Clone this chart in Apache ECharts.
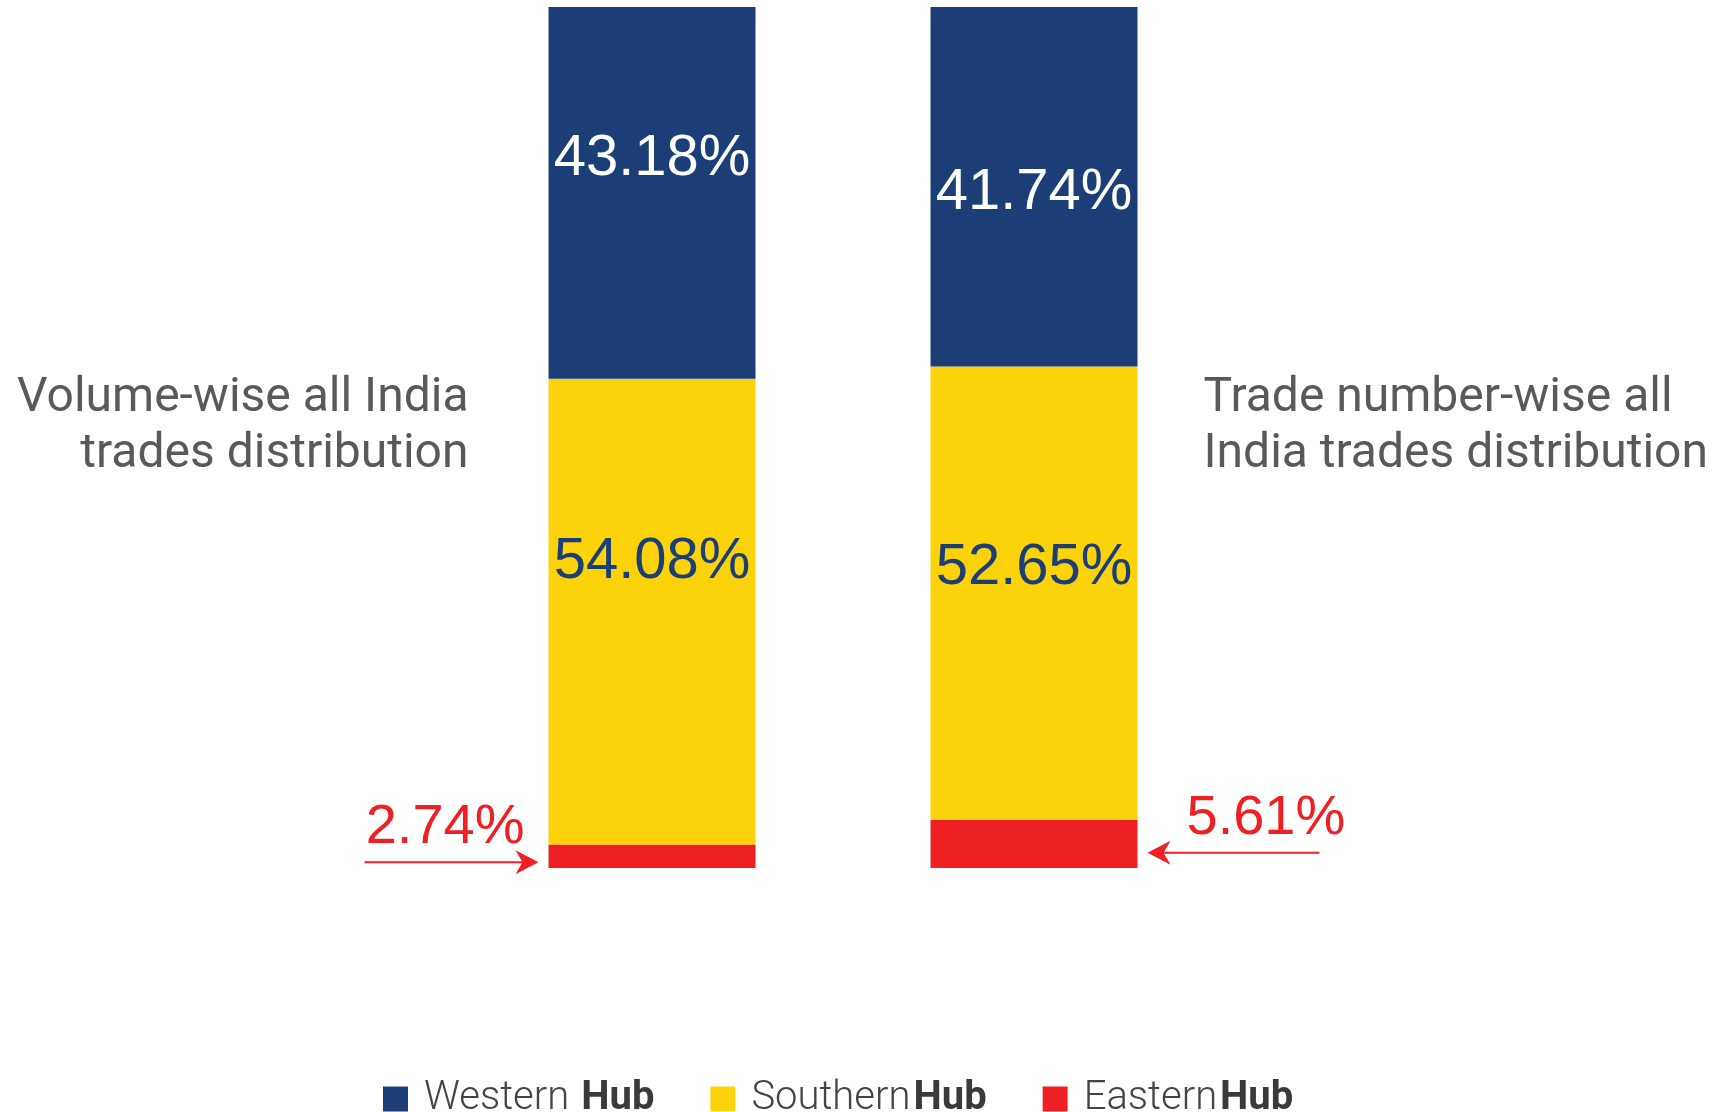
<!DOCTYPE html>
<html>
<head>
<meta charset="utf-8">
<script src="https://cdn.jsdelivr.net/npm/echarts@6/dist/echarts.min.js"></script>
<style>
  html, body { margin: 0; padding: 0; background: #fff; }
  #main { width: 1727px; height: 1112px; }
</style>
</head>
<body>
<div id="main"></div>
<script>
// data
const categories = ['Volume-wise', 'Trade number-wise'];
const hubNames = ['Western Hub', 'Southern Hub', 'Eastern Hub'];
const western = [43.18, 41.74];
const southern = [54.08, 52.65];
const eastern = [2.74, 5.61];

const BLUE = '#1c3e76';
const YELLOW = '#fcd30b';
const RED = '#ee2024';
const LABEL_FONT = '"Liberation Sans", Arial, sans-serif';

// nudges so the in-bar labels sit where the original put them
const westernOffsets = [[0, -34], [0, 6]];
const southernOffsets = [[0, -50], [0, -25]];

const chart = echarts.init(document.getElementById('main'));

function pct(p) { return p.value.toFixed(2) + '%'; }

// stack is built bottom-up: eastern, southern, western
const option = {
  animation: false,
  grid: { left: 461, right: 502, top: 7, bottom: 244 },
  xAxis: {
    type: 'category',
    data: categories,
    show: false
  },
  yAxis: {
    type: 'value',
    min: 0,
    max: 100,
    show: false
  },
  legend: {
    data: hubNames,
    left: 378,
    top: 1074,
    itemWidth: 25,
    itemHeight: 25,
    itemGap: 56,
    icon: 'rect',
    formatter: function (name) {
      const gap = name === 'Western Hub' ? 's' : 't';
      return '{g| }{a|' + name.replace(' Hub', '') + '}{' + gap + '| }{b|Hub}';
    },
    textStyle: {
      rich: {
        g: { width: 11, lineHeight: 44 },
        s: { width: 12, lineHeight: 44 },
        t: { width: 3, lineHeight: 44 },
        a: { fontFamily: 'Roboto', fontWeight: 300, fontSize: 40, lineHeight: 44, color: '#444' },
        b: { fontFamily: 'Roboto', fontWeight: 'bold', fontSize: 40, lineHeight: 44, color: '#3a3a3a' }
      }
    }
  },
  series: [
    {
      name: 'Eastern Hub',
      type: 'bar',
      stack: 'hub',
      barWidth: 207,
      itemStyle: { color: RED },
      data: eastern.map((v, i) => ({
        value: v,
        label: i === 0
          ? { position: 'left', distance: 24, offset: [0, -29] }
          : { position: 'right', distance: 49, offset: [0, -25] }
      })),
      label: {
        show: true,
        formatter: pct,
        color: RED,
        fontFamily: LABEL_FONT,
        fontSize: 56
      }
    },
    {
      name: 'Southern Hub',
      type: 'bar',
      stack: 'hub',
      itemStyle: { color: YELLOW },
      data: southern.map((v, i) => ({
        value: v,
        label: { offset: southernOffsets[i] }
      })),
      label: {
        show: true,
        position: 'inside',
        formatter: pct,
        color: '#1c3e76',
        fontFamily: LABEL_FONT,
        fontSize: 58
      }
    },
    {
      name: 'Western Hub',
      type: 'bar',
      stack: 'hub',
      itemStyle: { color: BLUE },
      data: western.map((v, i) => ({
        value: v,
        label: { offset: westernOffsets[i] }
      })),
      label: {
        show: true,
        position: 'inside',
        formatter: pct,
        color: '#fff',
        fontFamily: LABEL_FONT,
        fontSize: 58
      }
    }
  ]
};

chart.setOption(option);

// titles and arrows, placed from the bars' pixel positions
const halfBar = 103.5;
const graphics = [];

function arrow(fromX, toX, y) {
  const dir = toX > fromX ? 1 : -1;
  graphics.push({
    type: 'line',
    shape: { x1: fromX, y1: y, x2: toX - dir * 14, y2: y },
    style: { stroke: RED, lineWidth: 2 }
  });
  graphics.push({
    type: 'polygon',
    shape: {
      points: [
        [toX, y],
        [toX - dir * 23, y - 12],
        [toX - dir * 16, y],
        [toX - dir * 23, y + 12]
      ]
    },
    style: { fill: RED }
  });
}

categories.forEach(function (c, i) {
  const mid = eastern[i] / 2;
  const p = chart.convertToPixel({ gridIndex: 0 }, [c, mid]);
  if (i === 0) {
    const edge = p[0] - halfBar;
    arrow(edge - 184, edge - 10, p[1] + 6);
  } else {
    const edge = p[0] + halfBar;
    arrow(edge + 182, edge + 10, p[1] + 9);
  }
});

const titleStyle = {
  fontFamily: 'Roboto',
  fontSize: 48,
  lineHeight: 56,
  fill: '#595959'
};

const leftBar = chart.convertToPixel({ gridIndex: 0 }, [categories[0], 0]);
const rightBar = chart.convertToPixel({ gridIndex: 0 }, [categories[1], 0]);

graphics.push({
  type: 'text',
  x: leftBar[0] - halfBar - 80,
  y: 371,
  style: Object.assign({
    text: 'Volume-wise all India\ntrades distribution',
    textAlign: 'right',
    textVerticalAlign: 'top'
  }, titleStyle)
});
graphics.push({
  type: 'text',
  x: rightBar[0] + halfBar + 66,
  y: 371,
  style: Object.assign({
    text: 'Trade number-wise all\nIndia trades distribution',
    textAlign: 'left',
    textVerticalAlign: 'top'
  }, titleStyle)
});

chart.setOption({ graphic: graphics });
</script>
</body>
</html>
